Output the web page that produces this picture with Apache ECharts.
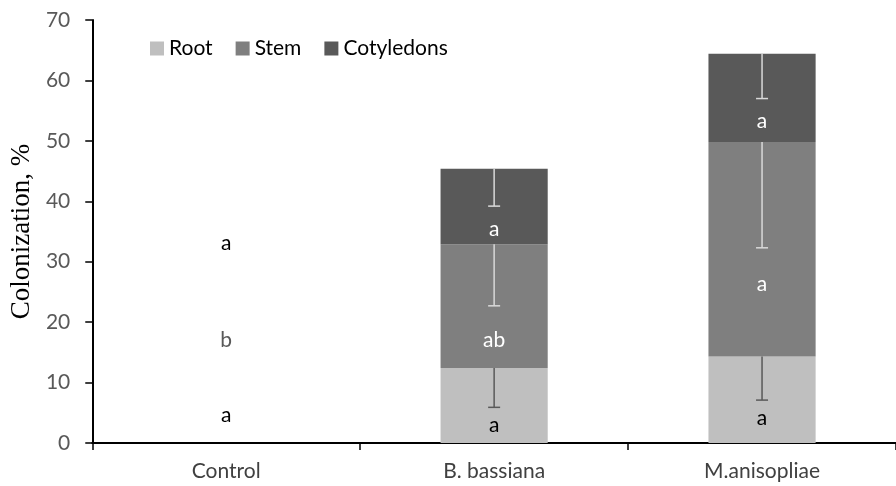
<!DOCTYPE html>
<html>
<head>
<meta charset="utf-8">
<script src="https://cdn.jsdelivr.net/npm/echarts@6/dist/echarts.min.js"></script>
<style>
  html, body { margin: 0; padding: 0; background: #fff; }
  #main { width: 896px; height: 486px; }
</style>
</head>
<body>
<div id="main"></div>
<script>
// data
var categories = ['Control', 'B. bassiana', 'M.anisopliae'];
var root = [0, 12.4, 14.3];
var stem = [0, 20.5, 35.5];
var cotyledons = [0, 12.5, 14.6];

// negative error amounts (only the lower half is drawn)
var rootErr = [0, 6.5, 7.2];
var stemErr = [0, 10.2, 17.5];
var cotErr = [0, 6.2, 7.4];

// significance letters and the height they sit at
var rootLetters = ['a', 'a', 'a'];
var rootLetterY = [4.6, 3.0, 4.1];
var stemLetters = ['b', 'ab', 'a'];
var stemLetterY = [17, 17, 26.3];
var cotLetters = ['a', 'a', 'a'];
var cotLetterY = [33, 35.4, 53.3];

var yTicks = [0, 10, 20, 30, 40, 50, 60, 70];

var font = 'Lato, "Open Sans", sans-serif';
var myChart = echarts.init(document.getElementById('main'));

function tops(arrs) {
    return categories.map(function (c, i) {
        var s = 0;
        arrs.forEach(function (a) { s += a[i]; });
        return s;
    });
}
var rootTop = tops([root]);
var stemTop = tops([root, stem]);
var cotTop = tops([root, stem, cotyledons]);

function errSeries(topArr, errArr, color) {
    return {
        type: 'custom',
        z: 5,
        silent: true,
        data: categories.map(function (c, i) { return [i, topArr[i], topArr[i] - errArr[i], errArr[i]]; }),
        renderItem: function (params, api) {
            if (api.value(3) <= 0) return;
            var p1 = api.coord([api.value(0), api.value(1)]);
            var p2 = api.coord([api.value(0), api.value(2)]);
            var style = { stroke: color, lineWidth: 1.5 };
            return {
                type: 'group',
                children: [
                    { type: 'line', shape: { x1: p1[0], y1: p1[1], x2: p2[0], y2: p2[1] }, style: style },
                    { type: 'line', shape: { x1: p2[0] - 6, y1: p2[1], x2: p2[0] + 6, y2: p2[1] }, style: style }
                ]
            };
        }
    };
}

function letterSeries(letters, ys, colorFn) {
    return {
        type: 'custom',
        z: 6,
        silent: true,
        data: categories.map(function (c, i) { return [i, ys[i], letters[i]]; }),
        renderItem: function (params, api) {
            var i = params.dataIndex;
            var p = api.coord([api.value(0), api.value(1)]);
            return {
                type: 'text',
                x: p[0], y: p[1],
                style: {
                    text: letters[i],
                    fill: colorFn(i),
                    font: '21px ' + font,
                    align: 'center',
                    verticalAlign: 'middle'
                }
            };
        }
    };
}

var option = {
    backgroundColor: '#fff',
    animation: false,
    textStyle: { fontFamily: font },
    legend: {
        left: 145,
        top: 33,
        itemWidth: 14,
        itemHeight: 14,
        itemGap: 23,
        icon: 'rect',
        data: ['Root', 'Stem', 'Cotyledons'],
        textStyle: { fontSize: 21, color: '#000', fontFamily: font }
    },
    grid: { left: 92, width: 812, top: 20, bottom: 43, containLabel: false },
    xAxis: {
        type: 'category',
        data: categories,
        axisLine: { lineStyle: { color: '#000', width: 2 } },
        axisTick: { show: true, length: 7, lineStyle: { color: '#000', width: 1.5 } },
        axisLabel: { fontSize: 21, color: '#404040', margin: 18, fontFamily: font }
    },
    yAxis: {
        type: 'value',
        min: 0,
        max: 70,
        interval: 10,
        name: 'Colonization, %',
        nameLocation: 'middle',
        nameGap: 47,
        nameTextStyle: { fontFamily: '"Liberation Serif", serif', fontSize: 27, color: '#000' },
        axisLine: { show: true, lineStyle: { color: '#000', width: 2 } },
        axisTick: { show: true, length: 7, lineStyle: { color: '#000', width: 1.5 } },
        axisLabel: {
            fontSize: 21, color: '#595959', margin: 22, fontFamily: font,
            formatter: function (v) { return yTicks.indexOf(v) >= 0 ? String(v) : ''; }
        },
        splitLine: { show: false }
    },
    series: [
        { name: 'Root', type: 'bar', stack: 'all', barWidth: '40%', data: root, itemStyle: { color: '#bfbfbf' } },
        { name: 'Stem', type: 'bar', stack: 'all', data: stem, itemStyle: { color: '#7f7f7f' } },
        { name: 'Cotyledons', type: 'bar', stack: 'all', data: cotyledons, itemStyle: { color: '#595959' } },
        errSeries(rootTop, rootErr, '#595959'),
        errSeries(stemTop, stemErr, '#d9d9d9'),
        errSeries(cotTop, cotErr, '#d9d9d9'),
        letterSeries(rootLetters, rootLetterY, function () { return '#000'; }),
        letterSeries(stemLetters, stemLetterY, function (i) { return stem[i] > 0 ? '#fff' : '#595959'; }),
        letterSeries(cotLetters, cotLetterY, function (i) { return cotyledons[i] > 0 ? '#fff' : '#000'; })
    ]
};

myChart.setOption(option);
</script>
</body>
</html>
